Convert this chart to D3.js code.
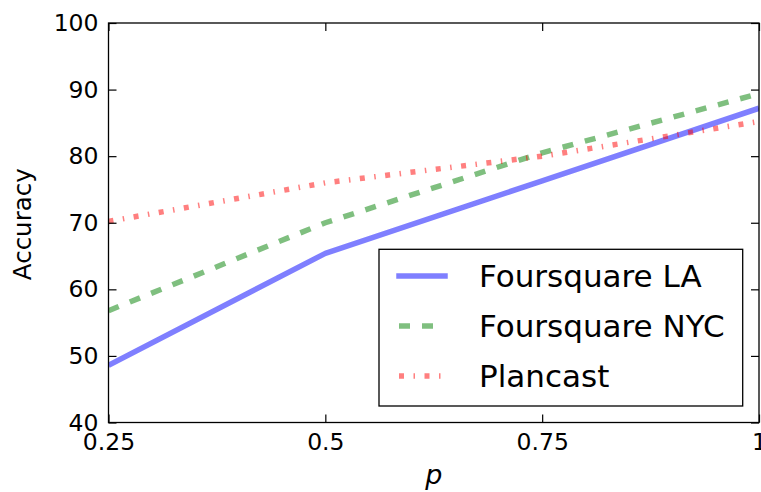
<!DOCTYPE html>
<html>
<head>
<meta charset="utf-8">
<script src="https://cdn.jsdelivr.net/npm/d3@7"></script>
<style>
  html, body { margin: 0; padding: 0; background: #fff; }
  svg { display: block; }
  text { font-family: "DejaVu Sans", sans-serif; fill: #000; }
</style>
</head>
<body>
<svg id="chart" width="761" height="492"></svg>
<script>
// Values of p on the x axis
const pValues = [0.25, 0.5, 0.75, 1];
// Accuracy per dataset
const foursquareLA = [48.6, 65.4, 76.3, 87.2];
const foursquareNYC = [56.8, 70.0, 80.5, 89.4];
const plancast = [70.2, 76.0, 80.0, 85.2];
// Tick labels
const xTicks = [0.25, 0.5, 0.75, 1];
const xTickLabels = ["0.25", "0.5", "0.75", "1"];
const yTicks = [40, 50, 60, 70, 80, 90, 100];

const series = [
  { name: "Foursquare LA", values: foursquareLA, color: "#0000ff", dash: null },
  { name: "Foursquare NYC", values: foursquareNYC, color: "#008000", dash: "11,12" },
  { name: "Plancast", values: plancast, color: "#ff0000", dash: "5,9.5,1.5,9.5" }
];

const svg = d3.select("#chart");
const plot = { left: 108.5, top: 23, right: 759, bottom: 422.5 };

const x = d3.scaleLinear().domain([0.25, 1]).range([plot.left, plot.right]);
const y = d3.scaleLinear().domain([40, 100]).range([plot.bottom, plot.top]);

svg.append("defs").append("clipPath").attr("id", "plot-clip")
  .append("rect")
  .attr("x", plot.left).attr("y", plot.top)
  .attr("width", plot.right - plot.left).attr("height", plot.bottom - plot.top);

// Series lines
const line = d3.line().x((d, i) => x(pValues[i])).y(d => y(d));
const lines = svg.append("g").attr("clip-path", "url(#plot-clip)");
series.forEach(s => {
  lines.append("path")
    .attr("d", line(s.values))
    .attr("fill", "none")
    .attr("stroke", s.color)
    .attr("stroke-opacity", 0.5)
    .attr("stroke-width", 5.5)
    .attr("stroke-linejoin", "round")
    .attr("stroke-dasharray", s.dash);
});

// Axes with inward ticks on all four sides
const fontSize = 23.5;
function styleAxis(g) {
  g.select(".domain").remove();
  g.selectAll(".tick line").attr("stroke", "#000").attr("stroke-width", 1.2);
  g.selectAll(".tick text").attr("font-size", fontSize).attr("font-family", "DejaVu Sans").attr("fill", "#000");
}

svg.append("g")
  .attr("transform", `translate(0,${plot.bottom})`)
  .call(d3.axisBottom(x).tickValues(xTicks).tickFormat((d, i) => xTickLabels[i]).tickSize(-8).tickPadding(11))
  .call(styleAxis);

svg.append("g")
  .attr("transform", `translate(0,${plot.top})`)
  .call(d3.axisTop(x).tickValues(xTicks).tickFormat("").tickSize(-8))
  .call(styleAxis);

svg.append("g")
  .attr("transform", `translate(${plot.left},0)`)
  .call(d3.axisLeft(y).tickValues(yTicks).tickFormat(d3.format("d")).tickSize(-8).tickPadding(10))
  .call(styleAxis);

svg.append("g")
  .attr("transform", `translate(${plot.right},0)`)
  .call(d3.axisRight(y).tickValues(yTicks).tickFormat("").tickSize(-8))
  .call(styleAxis);

// Frame
svg.append("rect")
  .attr("x", plot.left).attr("y", plot.top)
  .attr("width", plot.right - plot.left).attr("height", plot.bottom - plot.top)
  .attr("fill", "none").attr("stroke", "#000").attr("stroke-width", 1.3);

// Axis titles
svg.append("text")
  .attr("transform", `translate(30.5,${(plot.top + plot.bottom) / 2 + 1.5}) rotate(-90)`)
  .attr("text-anchor", "middle")
  .attr("font-size", 24.5)
  .text("Accuracy");

svg.append("text")
  .attr("x", (plot.left + plot.right) / 2)
  .attr("y", 484)
  .attr("text-anchor", "middle")
  .attr("font-family", "Liberation Serif, serif")
  .attr("font-style", "italic")
  .attr("font-size", 27)
  .text("p");

// Legend
const legend = svg.append("g");
legend.append("rect")
  .attr("x", 379).attr("y", 249.3)
  .attr("width", 363.7).attr("height", 156.7)
  .attr("fill", "#fff").attr("stroke", "#000").attr("stroke-width", 1.3);

series.forEach((s, i) => {
  const cy = 276 + i * 50;
  legend.append("line")
    .attr("x1", 399).attr("x2", 445)
    .attr("y1", cy).attr("y2", cy)
    .attr("stroke", s.color)
    .attr("stroke-opacity", 0.5)
    .attr("stroke-width", 5.5)
    .attr("stroke-linecap", s.dash ? "butt" : "square")
    .attr("stroke-dasharray", s.dash);
  legend.append("text")
    .attr("x", 479)
    .attr("y", cy + 11)
    .attr("font-size", 31)
    .text(s.name);
});
</script>
</body>
</html>
